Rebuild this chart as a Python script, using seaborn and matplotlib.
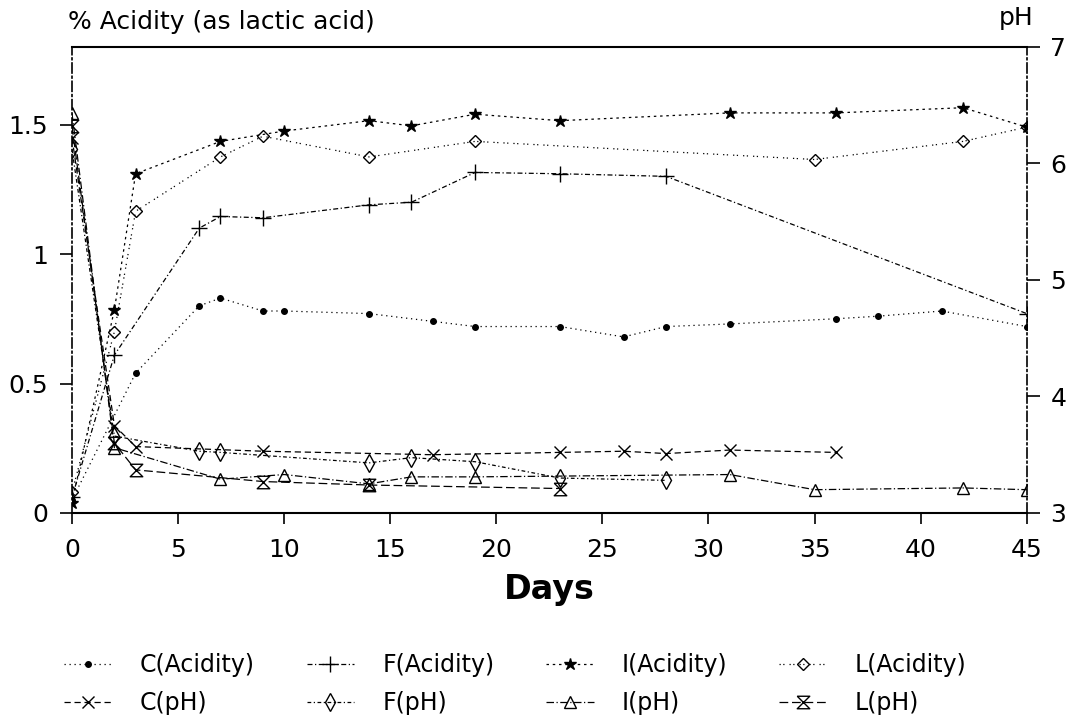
import matplotlib
matplotlib.use("Agg")
import matplotlib.pyplot as plt
import seaborn as sns

# ── values ────────────────────────────────────────────────────────────────────
days_ticks = [0, 5, 10, 15, 20, 25, 30, 35, 40, 45]
acid_ticks = [0, 0.5, 1, 1.5]
acid_tick_labels = ["0", "0.5", "1", "1.5"]
ph_ticks = [3, 4, 5, 6, 7]

c_acid_days = [0, 3, 6, 7, 9, 10, 14, 17, 19, 23, 26, 28, 31, 36, 38, 41, 45]
c_acid = [0.05, 0.54, 0.80, 0.83, 0.78, 0.78, 0.77, 0.74, 0.72, 0.72, 0.68,
          0.72, 0.73, 0.75, 0.76, 0.78, 0.72]

f_acid_days = [0, 2, 6, 7, 9, 14, 16, 19, 23, 28, 45]
f_acid = [0.06, 0.61, 1.10, 1.145, 1.14, 1.19, 1.20, 1.315, 1.31, 1.30, 0.77]

i_acid_days = [0, 2, 3, 7, 10, 14, 16, 19, 23, 31, 36, 42, 45]
i_acid = [0.04, 0.785, 1.31, 1.435, 1.475, 1.515, 1.495, 1.54, 1.515, 1.545,
          1.545, 1.565, 1.49]

l_acid_days = [0, 2, 3, 7, 9, 14, 19, 35, 42, 45]
l_acid = [0.08, 0.70, 1.165, 1.375, 1.455, 1.375, 1.435, 1.365, 1.435, 1.49]

c_ph_days = [0, 2, 3, 9, 17, 23, 26, 28, 31, 36]
c_ph = [6.22, 3.75, 3.57, 3.53, 3.50, 3.52, 3.53, 3.51, 3.54, 3.52]

f_ph_days = [0, 2, 6, 7, 14, 16, 19, 23, 28]
f_ph = [6.12, 3.66, 3.53, 3.52, 3.43, 3.475, 3.44, 3.30, 3.28]

i_ph_days = [0, 2, 7, 10, 14, 16, 19, 31, 35, 42, 45]
i_ph = [6.43, 3.56, 3.29, 3.33, 3.25, 3.31, 3.31, 3.33, 3.20, 3.215, 3.20]

l_ph_days = [0, 2, 3, 9, 14, 23]
l_ph = [6.32, 3.60, 3.37, 3.27, 3.24, 3.21]

HOURGLASS = [(-1, 1), (1, 1), (-1, -1), (1, -1), (-1, 1)]

sns.set_style("ticks")
plt.rcParams["font.family"] = ["DejaVu Sans"]
plt.rcParams["text.color"] = "black"

fig = plt.figure(figsize=(10.74, 7.21), dpi=100)
ax = fig.add_axes([0.067, 0.2885, 0.889, 0.6465])
ax2 = ax.twinx()


def draw(axis, days, vals, label, **style):
    sns.lineplot(x=days, y=vals, ax=axis, color="black", linewidth=0.9,
                 markeredgecolor="black", markeredgewidth=1.0,
                 errorbar=None, legend=False, label=label, **style)


# acidity on the left axis
draw(ax, c_acid_days, c_acid, "C(Acidity)", marker="o", markersize=4,
     linestyle=(0, (1, 3)))
draw(ax, f_acid_days, f_acid, "F(Acidity)", marker="+", markersize=12,
     linestyle=(0, (4, 2, 1, 2)))
draw(ax, i_acid_days, i_acid, "I(Acidity)", marker="*", markersize=9,
     linestyle=(0, (2, 3)))
draw(ax, l_acid_days, l_acid, "L(Acidity)", marker="D", markersize=6,
     markerfacecolor="none", linestyle=(0, (1, 2, 1, 4)))

# pH on the right axis
draw(ax2, c_ph_days, c_ph, "C(pH)", marker="x", markersize=8,
     linestyle=(0, (5, 3)))
draw(ax2, f_ph_days, f_ph, "F(pH)", marker="d", markersize=9,
     markerfacecolor="none", linestyle=(0, (3, 2, 1, 2)))
draw(ax2, i_ph_days, i_ph, "I(pH)", marker="^", markersize=9,
     markerfacecolor="none", linestyle=(0, (6, 2, 1, 2)))
draw(ax2, l_ph_days, l_ph, "L(pH)", marker=HOURGLASS, markersize=9,
     markerfacecolor="none", linestyle=(0, (7, 3)))

# ── axes ──────────────────────────────────────────────────────────────────────
ax.set_xlim(0, 45)
ax.set_ylim(0, 1.8)
ax2.set_ylim(3, 7)
ax.set_xticks(days_ticks)
ax.set_yticks(acid_ticks)
ax.set_yticklabels(acid_tick_labels)
ax2.set_yticks(ph_ticks)

ax.set_xlabel("Days", fontsize=24, fontweight="bold", labelpad=8,
              color="black")
ax.set_ylabel("")
ax2.set_ylabel("")

ax.tick_params(axis="x", bottom=True, direction="out", length=8, width=1.2,
               pad=10, labelsize=18, colors="black")
ax.tick_params(axis="y", left=True, direction="out", length=9, width=1.2,
               pad=8, labelsize=18, colors="black")
ax2.tick_params(axis="y", right=True, direction="out", length=9, width=1.2,
                pad=8, labelsize=18, colors="black")

for name in ["top", "bottom"]:
    ax.spines[name].set_visible(True)
    ax.spines[name].set_color("black")
    ax.spines[name].set_linewidth(1.5)
ax.spines["left"].set_color("black")
ax.spines["left"].set_linewidth(1.2)
ax.spines["left"].set_linestyle((0, (6, 2, 1, 2)))
ax.spines["right"].set_visible(False)
for name in ["top", "bottom", "left"]:
    ax2.spines[name].set_visible(False)
ax2.spines["right"].set_visible(True)
ax2.spines["right"].set_color("black")
ax2.spines["right"].set_linewidth(1.2)
ax2.spines["right"].set_linestyle((0, (6, 2, 1, 2)))

fig.text(0.063, 0.969, "% Acidity (as lactic acid)", fontsize=18,
         ha="left", va="center")
fig.text(0.946, 0.975, "pH", fontsize=18, ha="center", va="center")

# legend: acidity on the first row, pH on the second
acid_lines = [l for l in ax.get_lines() if not l.get_label().startswith("_")]
ph_lines = [l for l in ax2.get_lines() if not l.get_label().startswith("_")]
handles = []
for a, p in zip(acid_lines, ph_lines):
    handles += [a, p]
fig.legend(handles, [h.get_label() for h in handles], ncol=4, loc="center",
           bbox_to_anchor=(0.48, 0.051), frameon=False, fontsize=17,
           handlelength=2.0, handletextpad=1.2, columnspacing=2.2,
           labelspacing=0.6, numpoints=1)

fig.savefig("out.png", dpi=100)
plt.close(fig)
